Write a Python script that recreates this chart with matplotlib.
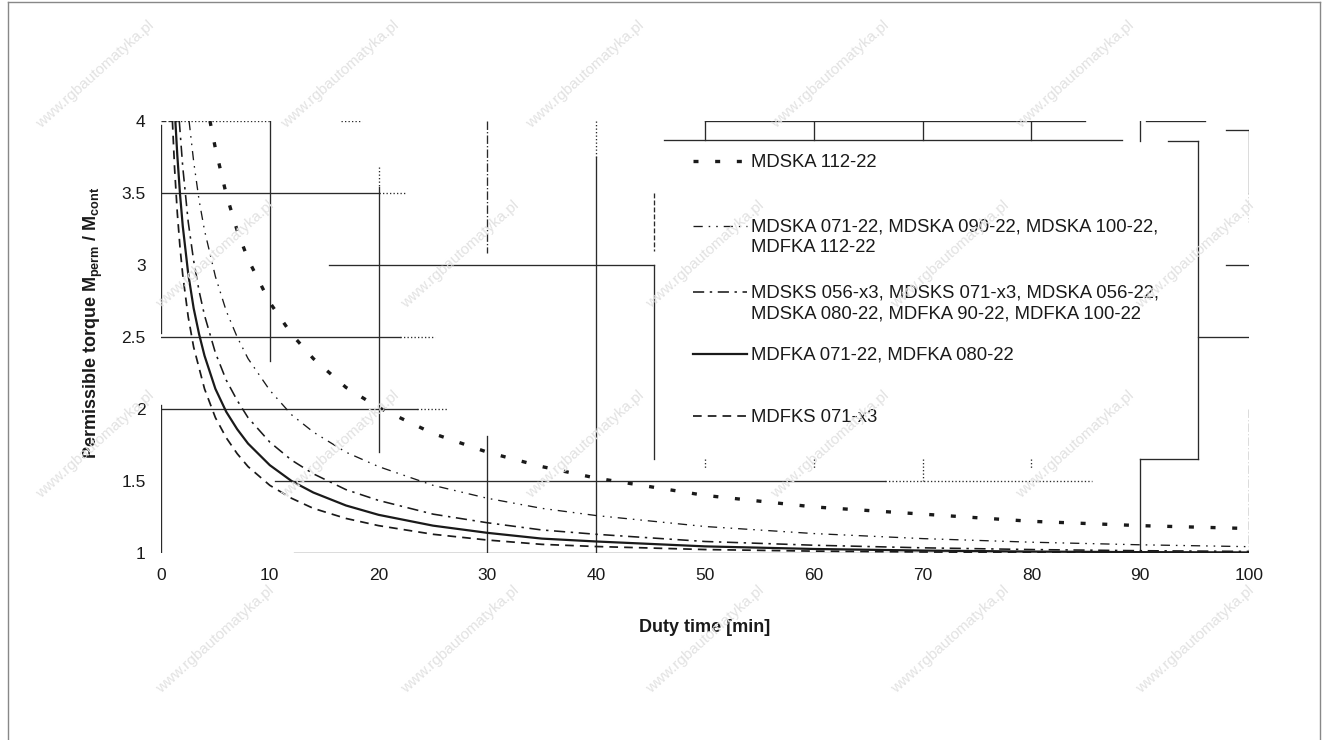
import matplotlib
matplotlib.use('Agg')
import matplotlib.pyplot as plt
from matplotlib.lines import Line2D

plt.rcParams['font.family'] = ['Liberation Sans', 'DejaVu Sans']
plt.rcParams['mathtext.fontset'] = 'custom'
plt.rcParams['mathtext.rm'] = 'Liberation Sans'
plt.rcParams['mathtext.bf'] = 'Liberation Sans:bold'

# values
t_mdfks = [1.05, 1.25, 1.5, 1.75, 2, 2.5, 3, 4, 5, 6, 7, 8, 10, 12, 14, 17, 20, 25, 30, 35, 40, 50, 60, 70, 80, 90, 100]
m_mdfks = [4.0, 3.67, 3.36, 3.12, 2.93, 2.64, 2.43, 2.14, 1.94, 1.80, 1.69, 1.60, 1.47, 1.38, 1.31, 1.24, 1.19, 1.13, 1.09, 1.06, 1.045, 1.024, 1.013, 1.007, 1.004, 1.002, 1.001]

t_mdfka = [1.32, 1.5, 1.75, 2, 2.5, 3, 3.5, 4, 5, 6, 7, 8, 10, 12, 14, 17, 20, 25, 30, 35, 40, 50, 60, 70, 80, 90, 100]
m_mdfka = [4.0, 3.76, 3.49, 3.27, 2.94, 2.70, 2.52, 2.37, 2.14, 1.98, 1.86, 1.76, 1.61, 1.50, 1.42, 1.33, 1.265, 1.19, 1.14, 1.10, 1.08, 1.046, 1.028, 1.017, 1.010, 1.006, 1.004]

t_mdsks = [1.68, 2, 2.5, 3, 3.5, 4, 5, 6, 7, 8, 10, 12, 14, 17, 20, 25, 30, 35, 40, 50, 60, 70, 80, 90, 100]
m_mdsks = [4.0, 3.68, 3.30, 3.03, 2.82, 2.65, 2.39, 2.20, 2.06, 1.94, 1.77, 1.645, 1.55, 1.44, 1.365, 1.27, 1.21, 1.16, 1.13, 1.08, 1.054, 1.036, 1.024, 1.016, 1.011]

t_mdska = [2.58, 3, 3.5, 4, 5, 6, 7, 8, 10, 12, 14, 17, 20, 25, 30, 35, 40, 50, 60, 70, 80, 90, 100]
m_mdska = [4.0, 3.72, 3.45, 3.24, 2.92, 2.68, 2.50, 2.35, 2.13, 1.96, 1.84, 1.70, 1.60, 1.47, 1.38, 1.31, 1.26, 1.184, 1.135, 1.10, 1.075, 1.057, 1.044]

t_mdska112 = [4.5, 5, 6, 7, 8, 10, 12, 14, 17, 20, 25, 30, 35, 40, 50, 60, 70, 80, 90, 100]
m_mdska112 = [4.0, 3.81, 3.49, 3.24, 3.04, 2.74, 2.52, 2.35, 2.15, 2.01, 1.83, 1.70, 1.60, 1.52, 1.40, 1.32, 1.27, 1.22, 1.19, 1.17]

labels = ['MDSKA 112-22',
          'MDSKA 071-22, MDSKA 090-22, MDSKA 100-22,\nMDFKA 112-22',
          'MDSKS 056-x3, MDSKS 071-x3, MDSKA 056-22,\nMDSKA 080-22, MDFKA 90-22, MDFKA 100-22',
          'MDFKA 071-22, MDFKA 080-22',
          'MDFKS 071-x3']
legend_rows = [3.72, 3.27, 2.81, 2.38, 1.95]

x_ticks = [0, 10, 20, 30, 40, 50, 60, 70, 80, 90, 100]
y_ticks = [1, 1.5, 2, 2.5, 3, 3.5, 4]
y_ticklabels = ['1', '1.5', '2', '2.5', '3', '3.5', '4']

# broken grid of the scan: (x0, y0, x1, y1, linestyle)
grid_segments = [
    (0, 4, 1.5, 4, '--'), (1.5, 4, 10, 4, ':'), (16.5, 4, 18.5, 4, ':'),
    (0, 3.5, 20, 3.5, '-'), (20, 3.5, 22.5, 3.5, ':'),
    (15.4, 3, 45.3, 3, '-'), (97.9, 3, 100, 3, '-'),
    (0, 2.5, 22, 2.5, '-'), (22, 2.5, 25.2, 2.5, ':'), (95.3, 2.5, 100, 2.5, '-'),
    (0, 2, 23.5, 2, '-'), (23.5, 2, 26.3, 2, ':'),
    (10.5, 1.5, 66.5, 1.5, '-'), (66.5, 1.5, 85.6, 1.5, ':'),
    (12.2, 1, 100, 1, '-'),
    (50, 4, 84.9, 4, '-'), (90.5, 4, 96, 4, '-'), (97.9, 3.94, 100, 3.94, '-'),
    (46.2, 3.87, 88.3, 3.87, '-'), (92.6, 3.86, 95.3, 3.86, '-'),
    (90, 1.65, 95.3, 1.65, '-'),
    (0, 3.97, 0, 2.53, '-'), (0, 2.03, 0, 1.0, '-'),
    (10, 4, 10, 2.33, '-'),
    (20, 3.68, 20, 3.54, ':'), (20, 3.54, 20, 1.70, '-'),
    (30, 4, 30, 3.08, '-.'), (30, 1.81, 30, 1, '-'),
    (40, 4, 40, 3.75, ':'), (40, 3.75, 40, 1, '-'),
    (45.3, 3.5, 45.3, 3.1, '--'), (45.3, 3.0, 45.3, 1.65, '-'),
    (50, 4, 50, 3.87, '-'), (60, 4, 60, 3.87, '-'), (70, 4, 70, 3.87, '-'), (80, 4, 80, 3.87, '-'),
    (50, 1.65, 50, 1.58, ':'), (60, 1.65, 60, 1.58, ':'), (70, 1.65, 70, 1.5, ':'), (80, 1.65, 80, 1.58, ':'),
    (90, 4, 90, 3.86, '-'), (90, 1.65, 90, 1, '-'),
    (95.3, 3.86, 95.3, 1.65, '-'),
    (100, 3.94, 100, 3.5, '-'), (100, 3.5, 100, 3.3, ':'), (100, 2.0, 100, 1.0, '-.'),
]

ink = '#1a1a1a'
styles = [
    dict(lw=2.4, ls=(0, (1.5, 5.0)), dash_capstyle='butt'),
    dict(lw=0.95, ls=(0, (7, 4.5, 1.2, 4.5, 1.2, 4.5))),
    dict(lw=1.15, ls=(0, (7, 3.5, 1.5, 3.5))),
    dict(lw=1.6, ls='-'),
    dict(lw=1.25, ls=(0, (5, 3.5))),
]
series = [(t_mdska112, m_mdska112), (t_mdska, m_mdska), (t_mdsks, m_mdsks),
          (t_mdfka, m_mdfka), (t_mdfks, m_mdfks)]

fig = plt.figure(figsize=(13.22, 7.40), dpi=100)
ax = fig.add_axes([161 / 1322, 1 - 553 / 740, 1088 / 1322, 432 / 740])

for x0, y0, x1, y1, ls in grid_segments:
    ax.plot([x0, x1], [y0, y1], color='#2a2a2a', lw=0.95, ls=ls, zorder=1)

for (t, m), st in zip(series, styles):
    ax.plot(t, m, color=ink, zorder=3, **st)

# legend drawn as in the catalogue: sample line level with the first text line
for lab, row, st in zip(labels, legend_rows, styles):
    ax.plot([48.9, 53.9], [row, row], color=ink, zorder=3, clip_on=False, **st)
    ax.text(54.2, row + 0.052, lab, fontsize=13.3, color=ink, va='top', ha='left',
            linespacing=1.25)

ax.set_xlim(0, 100)
ax.set_ylim(1, 4)
ax.set_xticks(x_ticks)
ax.set_yticks(y_ticks)
ax.set_yticklabels(y_ticklabels)
ax.tick_params(axis='both', length=0, labelsize=12.5, labelcolor=ink)
ax.tick_params(axis='x', pad=11)
ax.tick_params(axis='y', pad=11)
for s in ax.spines.values():
    s.set_visible(False)

ax.set_xlabel('Duty time [min]', fontsize=13, fontweight='bold', color=ink)
ax.xaxis.set_label_coords(0.5, -0.153)
ax.set_ylabel(r'Permissible torque M$_{\mathbf{perm}}$ / M$_{\mathbf{cont}}$',
              fontsize=13, fontweight='bold', color=ink)
ax.yaxis.set_label_coords(-0.0515, 0.532)

# page frame
fig.add_artist(Line2D([8 / 1322, 8 / 1322], [0, 1 - 2 / 740], color='#888888', lw=1))
fig.add_artist(Line2D([8 / 1322, 1320 / 1322], [1 - 2 / 740, 1 - 2 / 740], color='#888888', lw=1))
fig.add_artist(Line2D([1320 / 1322, 1320 / 1322], [0, 1 - 2 / 740], color='#888888', lw=1))

# faint watermark of the source, kept inside the page
for row, yy in enumerate([75, 255, 445, 640]):
    for xx in range(95 + (row % 2) * 120, 1240, 245):
        fig.text(xx / 1322, 1 - yy / 740, 'www.rgbautomatyka.pl', fontsize=11,
                 color='#e2e2e2', rotation=42, ha='center', va='center', zorder=0)

fig.savefig('out.png', dpi=100)
